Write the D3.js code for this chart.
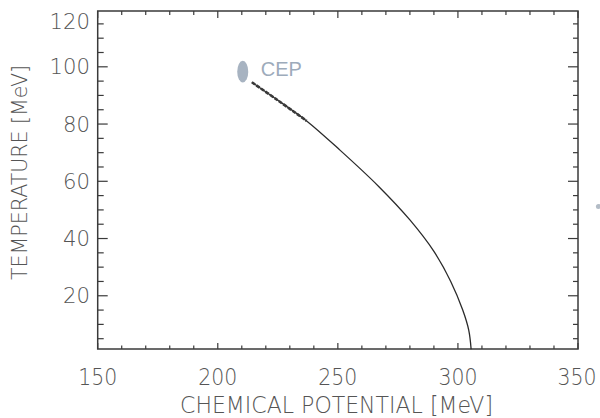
<!DOCTYPE html>
<html>
<head>
<meta charset="utf-8">
<script src="https://cdn.jsdelivr.net/npm/d3@7"></script>
<style>
  html, body { margin: 0; padding: 0; background: #fff; }
  svg { display: block; }
  .lbl { font-family: "DejaVu Sans", "Liberation Sans", sans-serif; font-weight: 200; fill: #555; }
</style>
</head>
<body>
<svg id="chart" width="600" height="418"></svg>
<script>
// phase boundary
var mu   = [214.2, 225, 237, 251, 267, 280, 290, 297, 302, 304.5, 305.5];
var temp = [94.6, 88.3, 81.1, 70.8, 58.2, 46.5, 35.5, 25, 15, 8, 1.3];
// thick, ragged part near the end point
var muRough   = [214.2, 225, 237];
var tempRough = [94.6, 88.3, 81.1];
// critical end point
var cepMu = [210.4];
var cepT  = [98.3];
var cepLabel = ["CEP"];
// stray dot at the right edge
var dotMu = [358.5];
var dotT  = [51.2];

var xTicks = [150, 200, 250, 300, 350];
var yTicks = [20, 40, 60, 80, 100, 120];

var svg = d3.select("#chart");
var pLeft = 97.7, pRight = 578, pTop = 11, pBottom = 349;

var x = d3.scaleLinear().domain([150, 350]).range([pLeft, pRight]);
var y = d3.scaleLinear().domain([1.4, 119.5]).range([pBottom, pTop]);

// minor / major tick marks, all pointing inwards
var xMinor = d3.range(160, 350, 10).filter(function(v) { return v % 50 != 0; });
var yMinor = d3.range(5, 120, 5).filter(function(v) { return v % 20 != 0; });

var ticks = svg.append("g").attr("stroke", "#3a3a3a").attr("stroke-width", 1.2);

function tickLines(vals, len, side) {
  vals.forEach(function(v) {
    if (side == "b") ticks.append("line").attr("x1", x(v)).attr("x2", x(v)).attr("y1", pBottom).attr("y2", pBottom - len);
    if (side == "t") ticks.append("line").attr("x1", x(v)).attr("x2", x(v)).attr("y1", pTop).attr("y2", pTop + len);
    if (side == "l" && y(v) > pTop + 1) ticks.append("line").attr("y1", y(v)).attr("y2", y(v)).attr("x1", pLeft).attr("x2", pLeft + len);
    if (side == "r" && y(v) > pTop + 1) ticks.append("line").attr("y1", y(v)).attr("y2", y(v)).attr("x1", pRight).attr("x2", pRight - len);
  });
}
tickLines(xTicks, 6, "b");
tickLines(xMinor, 3.5, "b");
tickLines(xTicks, 7, "t");
tickLines(xMinor, 4, "t");
tickLines(yTicks, 10, "l");
tickLines(yMinor, 6, "l");
tickLines(yTicks, 10, "r");
tickLines(yMinor, 5, "r");

// frame
svg.append("rect")
  .attr("x", pLeft).attr("y", pTop)
  .attr("width", pRight - pLeft).attr("height", pBottom - pTop)
  .attr("fill", "none").attr("stroke", "#3a3a3a").attr("stroke-width", 1.5);

// tick labels (the last one is kept just inside the picture)
svg.selectAll(".xl").data(xTicks).enter().append("text")
  .attr("class", "lbl xl")
  .attr("x", function(d) { return Math.min(x(d), 577); })
  .attr("y", 385)
  .attr("text-anchor", "middle")
  .attr("textLength", 39).attr("lengthAdjust", "spacingAndGlyphs")
  .style("font-size", "23px")
  .text(function(d) { return d; });

svg.selectAll(".yl").data(yTicks).enter().append("text")
  .attr("class", "lbl yl")
  .attr("x", 90)
  .attr("y", function(d) { return Math.max(y(d), 21); })
  .attr("dy", "0.36em")
  .attr("text-anchor", "end")
  .attr("textLength", function(d) { return String(d).length * 13.5; })
  .attr("lengthAdjust", "spacingAndGlyphs")
  .style("font-size", "21px")
  .text(function(d) { return d; });

// axis titles
svg.append("text")
  .attr("class", "lbl")
  .attr("x", 336.5).attr("y", 413)
  .attr("text-anchor", "middle")
  .attr("textLength", 313).attr("lengthAdjust", "spacingAndGlyphs")
  .style("font-size", "23px")
  .text("CHEMICAL POTENTIAL [MeV]");

svg.append("text")
  .attr("class", "lbl")
  .attr("transform", "translate(27,172.5) rotate(-90)")
  .attr("text-anchor", "middle")
  .attr("textLength", 215).attr("lengthAdjust", "spacingAndGlyphs")
  .style("font-size", "22px")
  .text("TEMPERATURE [MeV]");

// curve
var line = d3.line()
  .x(function(d) { return x(d[0]); })
  .y(function(d) { return y(d[1]); })
  .curve(d3.curveCatmullRom);

svg.append("path")
  .datum(d3.zip(mu, temp))
  .attr("d", line)
  .attr("fill", "none")
  .attr("stroke", "#2a2a2a")
  .attr("stroke-width", 1.3);

svg.append("path")
  .datum(d3.zip(muRough, tempRough))
  .attr("d", line)
  .attr("fill", "none")
  .attr("stroke", "#3a3a3a")
  .attr("stroke-width", 2.6)
  .attr("stroke-dasharray", "4,1.5");

// CEP marker
svg.selectAll(".cep").data(d3.zip(cepMu, cepT)).enter().append("ellipse")
  .attr("cx", function(d) { return x(d[0]); })
  .attr("cy", function(d) { return y(d[1]); })
  .attr("rx", 5.5).attr("ry", 10.8)
  .attr("fill", "#a7b3c1");

svg.selectAll(".cepl").data(cepLabel).enter().append("text")
  .attr("x", x(cepMu[0]) + 18)
  .attr("y", y(cepT[0]) + 4)
  .style("font-family", "'Liberation Sans', Arial, sans-serif")
  .style("font-size", "20px")
  .attr("fill", "#9dabbb")
  .text(function(d) { return d; });

svg.selectAll(".dot").data(d3.zip(dotMu, dotT)).enter().append("circle")
  .attr("cx", function(d) { return x(d[0]); })
  .attr("cy", function(d) { return y(d[1]); })
  .attr("r", 2.5)
  .attr("fill", "#b3bcc6");
</script>
</body>
</html>
